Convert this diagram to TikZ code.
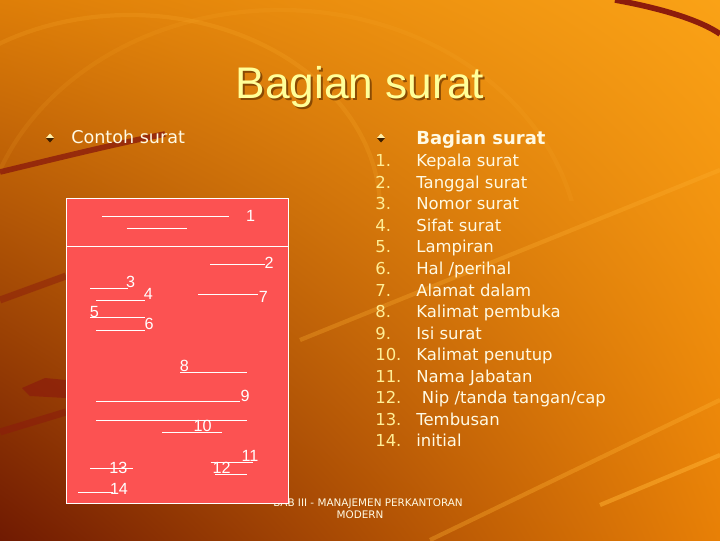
\documentclass[tikz,border=0pt]{standalone}
\usepackage{fontspec}
\setmainfont{DejaVu Sans}
\newfontfamily\arialfont{Liberation Sans}
\usetikzlibrary{shadings}

\definecolor{bgtl}{RGB}{222,126,8}
\definecolor{bgtr}{RGB}{250,162,22}
\definecolor{bgbl}{RGB}{112,26,2}
\definecolor{bgbr}{RGB}{232,128,6}
\definecolor{swoosh}{RGB}{140,28,12}
\definecolor{streak}{RGB}{255,178,50}
\definecolor{paper}{RGB}{252,82,82}
\definecolor{titleyellow}{RGB}{255,255,153}
\definecolor{numyellow}{RGB}{255,238,150}
\definecolor{listtext}{RGB}{255,250,228}
\definecolor{bullettop}{RGB}{255,240,170}
\definecolor{bulletbot}{RGB}{60,30,0}

\tikzset{
  letterline/.style={draw=white, line width=0.7pt},
  boxnum/.style={text=white, inner sep=0pt, font=\arialfont\fontsize{11.5}{12}\selectfont},
  listitem/.style={anchor=base west, inner sep=0pt, text=listtext, font=\fontsize{11.7}{13}\selectfont},
  footnote/.style={inner sep=0pt, text=listtext, font=\fontsize{7.4}{8}\selectfont},
  bulletmark/.pic={
    \fill[bullettop] (-4,0) -- (0,-4.5) -- (4,0) -- cycle;
    \fill[bulletbot] (-4,0) -- (0,4.5) -- (4,0) -- cycle;
  },
}

\begin{document}
\begin{tikzpicture}[x=0.025cm, y=-0.025cm]
            \useasboundingbox (0,0) rectangle (720,540);
            % background
            \shade[upper left=bgtl, upper right=bgtr, lower left=bgbl, lower right=bgbr] (0,0) rectangle (720,540);
            \begin{scope}
              \clip (0,0) rectangle (720,200);
              \draw[streak, opacity=0.18, line width=3pt] (130,210) ellipse (250 and 195);
              \draw[streak, opacity=0.12, line width=3pt] (280,260) ellipse (300 and 250);
            \end{scope}
            \draw[swoosh, line width=4pt] (615,0) .. controls (660,8) and (700,20) .. (720,34);
            \draw[swoosh, opacity=0.8, line width=4pt] (0,172) .. controls (50,160) and (110,145) .. (165,134);
            \draw[swoosh, opacity=0.5, line width=5pt] (0,300) -- (66,276);
            \draw[swoosh, opacity=0.6, line width=5pt] (0,432) -- (66,412);
            \fill[swoosh, opacity=0.7] (22,388) -- (45,378) -- (66,380) -- (66,398) -- (30,396) -- cycle;
            \draw[streak, opacity=0.5, line width=3pt] (600,505) -- (720,455);
            \draw[streak, opacity=0.35, line width=3pt] (430,540) -- (720,400);
            \draw[streak, opacity=0.3, line width=3pt] (300,340) -- (720,170);

            % title
            \node[anchor=base, text=black!60!orange, opacity=0.7, font=\arialfont\fontsize{31.5}{34}\selectfont] (titleshadow) at (362,100.5) {Bagian surat};
            \node[anchor=base, text=titleyellow, font=\arialfont\fontsize{31.5}{34}\selectfont] (title) at (360,98.5) {Bagian surat};

            % footer
            \node[footnote, anchor=base east] (foot1) at (463,506) {BAB III - MANAJEMEN PERKANTORAN};
            \node[footnote, anchor=base] (foot2) at (360,518) {MODERN};

            % left column
            \pic at (50,138) {bulletmark};
            \node[listitem, font=\fontsize{12.5}{14}\selectfont] (contoh) at (71,143) {Contoh surat};

            % example letter
            \draw[draw=white, fill=paper, line width=0.7pt] (66,198) rectangle (288,503.5);
            \draw[letterline] (66,246.7) -- (288,246.7);
            \draw[letterline] (102.3,216) -- (229,216);
            \draw[letterline] (126.7,228.3) -- (186.7,228.3);
            \draw[letterline] (210,264.3) -- (265,264.3);
            \draw[letterline] (90,288.3) -- (128,288.3);
            \draw[letterline] (96,300) -- (145,300);
            \draw[letterline] (198.3,294.3) -- (258.3,294.3);
            \draw[letterline] (90,317.7) -- (145,317.7);
            \draw[letterline] (96,330) -- (145,330);
            \draw[letterline] (180,372.3) -- (246.7,372.3);
            \draw[letterline] (96,401.7) -- (240,401.7);
            \draw[letterline] (96,420) -- (246.7,420);
            \draw[letterline] (162.3,432.3) -- (222.3,432.3);
            \draw[letterline] (210.7,462.7) -- (252.7,462.7);
            \draw[letterline] (215,474.3) -- (246.7,474.3);
            \draw[letterline] (90,468.3) -- (132.7,468.3);
            \draw[letterline] (78.3,492.7) -- (113.3,492.7);

            \node[boxnum] (n1) at (250.7,216) {1};
            \node[boxnum] (n2) at (269,263.3) {2};
            \node[boxnum] (n3) at (130.7,281.7) {3};
            \node[boxnum] (n4) at (148.3,294.3) {4};
            \node[boxnum] (n5) at (94.3,311.7) {5};
            \node[boxnum] (n6) at (149,324) {6};
            \node[boxnum] (n7) at (263.3,296.7) {7};
            \node[boxnum] (n8) at (184.3,365.7) {8};
            \node[boxnum] (n9) at (245,396) {9};
            \node[boxnum] (n10) at (202.7,426) {10};
            \node[boxnum] (n11) at (250,456) {11};
            \node[boxnum] (n12) at (221.7,468.3) {12};
            \node[boxnum] (n13) at (118.3,467.7) {13};
            \node[boxnum] (n14) at (119,489.3) {14};

            % right column
            \pic at (381,138) {bulletmark};
            \node[listitem, font=\bfseries\fontsize{12.8}{14}\selectfont] (bagian) at (416,144) {Bagian surat};
            \node[listitem] (b1) at (375,166.7) {\makebox[29.2pt][l]{\color{numyellow}1.}Kepala surat};
            \node[listitem] (b2) at (375,188.2) {\makebox[29.2pt][l]{\color{numyellow}2.}Tanggal surat};
            \node[listitem] (b3) at (375,209.8) {\makebox[29.2pt][l]{\color{numyellow}3.}Nomor surat};
            \node[listitem] (b4) at (375,231.3) {\makebox[29.2pt][l]{\color{numyellow}4.}Sifat surat};
            \node[listitem] (b5) at (375,252.9) {\makebox[29.2pt][l]{\color{numyellow}5.}Lampiran};
            \node[listitem] (b6) at (375,274.4) {\makebox[29.2pt][l]{\color{numyellow}6.}Hal /perihal};
            \node[listitem] (b7) at (375,296) {\makebox[29.2pt][l]{\color{numyellow}7.}Alamat dalam};
            \node[listitem] (b8) at (375,317.5) {\makebox[29.2pt][l]{\color{numyellow}8.}Kalimat pembuka};
            \node[listitem] (b9) at (375,339.1) {\makebox[29.2pt][l]{\color{numyellow}9.}Isi surat};
            \node[listitem] (b10) at (375,360.6) {\makebox[29.2pt][l]{\color{numyellow}10.}Kalimat penutup};
            \node[listitem] (b11) at (375,382.2) {\makebox[29.2pt][l]{\color{numyellow}11.}Nama Jabatan};
            \node[listitem] (b12) at (375,403.7) {\makebox[29.2pt][l]{\color{numyellow}12.}\hspace{4pt}Nip /tanda tangan/cap};
            \node[listitem] (b13) at (375,425.3) {\makebox[29.2pt][l]{\color{numyellow}13.}Tembusan};
            \node[listitem] (b14) at (375,446.8) {\makebox[29.2pt][l]{\color{numyellow}14.}initial};
\end{tikzpicture}
\end{document}
